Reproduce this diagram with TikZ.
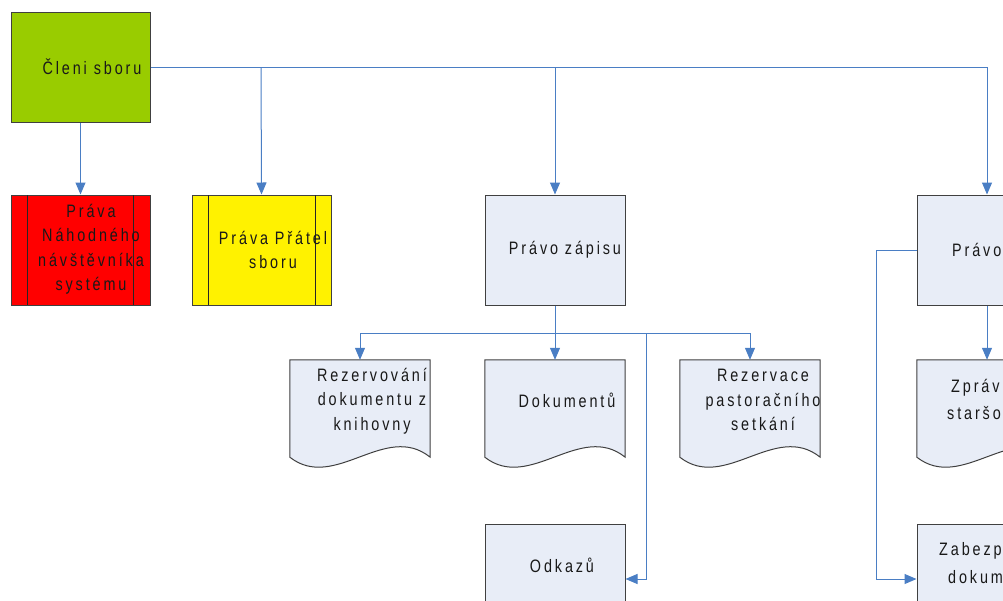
\documentclass[tikz,border=0pt]{standalone}
\usepackage{fontspec}
\setmainfont{Liberation Sans}[FakeStretch=0.8,LetterSpace=16]
\usetikzlibrary{arrows.meta,calc}
\definecolor{conn}{HTML}{4A7EC4}
\definecolor{boxfill}{HTML}{E8EDF7}
\definecolor{boxline}{HTML}{404040}
\definecolor{leafgreen}{HTML}{99CC00}
\tikzset{
  boxst/.style={draw=boxline,line width=1pt,fill=boxfill,minimum width=140pt,minimum height=110pt,inner sep=0pt},
  docst/.style={draw=none,minimum width=140pt,minimum height=97pt,inner sep=0pt},
  docpath/.style={draw=boxline,line width=1pt,fill=boxfill},
  sideline/.style={draw=black!85,line width=1pt},
  lbl/.style={font=\fontsize{18pt}{24.5pt}\selectfont,align=center,inner sep=0pt,text=black!90},
  cn/.style={draw=conn,line width=1pt,-{Triangle[width=10pt,length=12pt]}},
}
\newcommand{\docshape}[1]{%
  \path[docpath] (#1.south west) -- (#1.north west) -- (#1.north east) -- (#1.south east)
    .. controls +(-45,-36) and +(45,35) .. (#1.south west) -- cycle;}
\begin{document}
\begin{tikzpicture}[x=1pt,y=-1pt]
\useasboundingbox (0,0) rectangle (1003,600);
\clip (0,0) rectangle (1003,600);
% top row
\node[boxst,fill=leafgreen,minimum width=139pt] (cs) at (80.5,67) {};
\node[lbl] (cs-t) at (92,67) {Členi sboru};
\node[boxst,fill=red,minimum width=139pt] (nahod) at (80.5,250) {};
\path[sideline] (27,195) -- (27,305);
\path[sideline] (133,195) -- (133,305);
\node[lbl] (nahod-t) at (91,249) {Práva\\Náhodného\\návštěvníka\\systému};
\node[boxst,fill=yellow,minimum width=139pt] (pratel) at (261.5,250) {};
\path[sideline] (208,195) -- (208,305);
\path[sideline] (315,195) -- (315,305);
\node[lbl] (pratel-t) at (273,250) {Práva Přátel\\sboru};
\node[boxst] (zapis) at (555,250) {};
\node[lbl] (zapis-t) at (565,250) {Právo zápisu};
\node[boxst] (pravo) at (987,250) {};
\node[lbl,anchor=west] (pravo-t) at (952,250) {Právo};
% documents
\node[docst] (rez) at (360,408.5) {};
\docshape{rez}
\node[lbl] (rez-t) at (372,401) {Rezervování\\dokumentu z\\knihovny};
\node[docst] (dok) at (555,408.5) {};
\docshape{dok}
\node[lbl] (dok-t) at (567,400) {Dokumentů};
\node[docst] (rezp) at (750,408.5) {};
\docshape{rezp}
\node[lbl] (rezp-t) at (763,400) {Rezervace\\pastoračního\\setkání};
\node[docst] (zpr) at (987,408.5) {};
\docshape{zpr}
\node[lbl,anchor=west,align=left] (zpr-t1) at (951,388) {Zpráv};
\node[lbl,anchor=west,align=left] (zpr-t2) at (947,413) {staršo};
% bottom row
\node[boxst] (odk) at (555,579) {};
\node[lbl] (odk-t) at (562,565) {Odkazů};
\node[boxst] (zab) at (987,579) {};
\node[lbl,anchor=west] (zab-t1) at (939,551) {Zabezp};
\node[lbl,anchor=west] (zab-t2) at (948,577) {dokum};
% connectors
\coordinate (j1) at (261,67);
\coordinate (j2) at (555,67);
\coordinate (h) at (555,333);
\coordinate (k) at (646,333);
\coordinate (m) at (876,250);
\draw[cn] (cs.east) -| (pravo.north);
\draw[cn] (cs.south) -- (nahod.north);
\draw[cn] (j1) -- (pratel.north);
\draw[cn] (j2) -- (zapis.north);
\draw[cn] (zapis.south) -- (dok.north);
\draw[cn] (h) -| (rez.north);
\draw[cn] (h) -| (rezp.north);
\draw[cn] (k) |- (odk.east);
\draw[cn] (pravo.west) -- (m) |- (zab.west);
\draw[cn] (pravo.south) -- (zpr.north);
\end{tikzpicture}
\end{document}
